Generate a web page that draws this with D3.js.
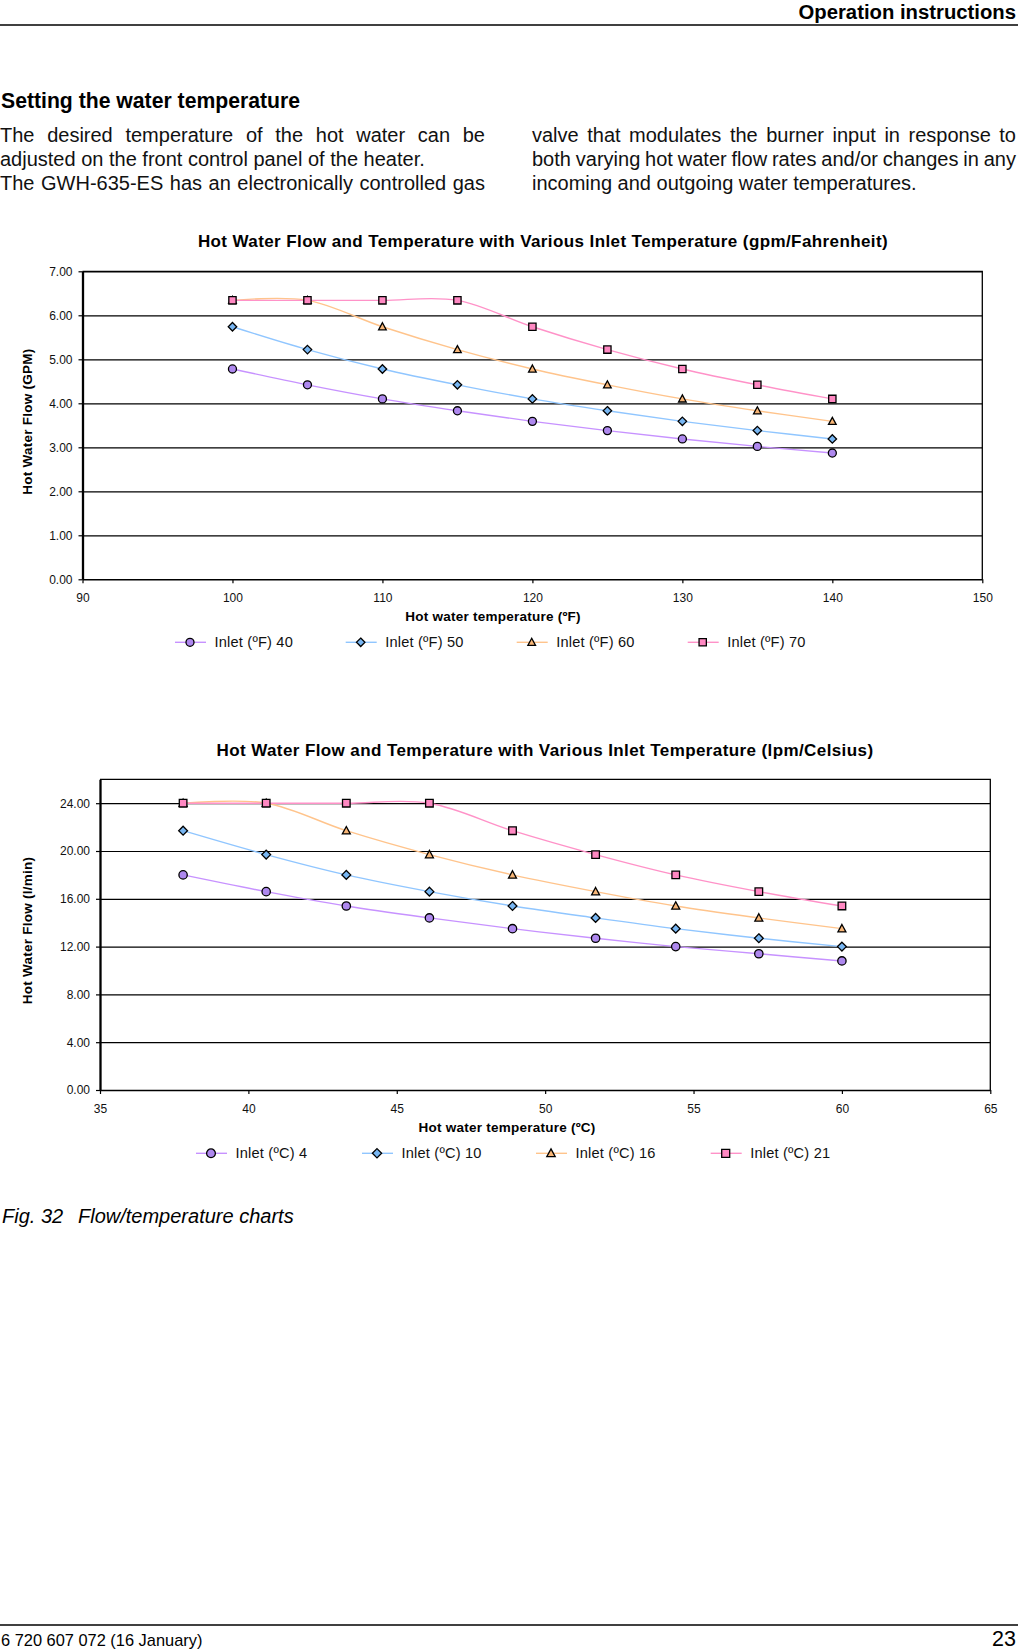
<!DOCTYPE html>
<html>
<head>
<meta charset="utf-8">
<script src="https://cdn.jsdelivr.net/npm/d3@7"></script>
<style>
html, body { margin: 0; padding: 0; background: #fff; }
svg text { font-family: "Liberation Sans", Arial, Helvetica, sans-serif; }
</style>
</head>
<body>
<script>
// ---- chart data ----

// chart 1: gpm / Fahrenheit
var tempF = [100, 105, 110, 115, 120, 125, 130, 135, 140];
var flowF40 = [4.78, 4.42, 4.10, 3.83, 3.59, 3.38, 3.19, 3.02, 2.87];
var flowF50 = [5.74, 5.22, 4.78, 4.42, 4.10, 3.83, 3.59, 3.38, 3.19];
var flowF60 = [6.34, 6.34, 5.74, 5.22, 4.78, 4.42, 4.10, 3.83, 3.59];
var flowF70 = [6.34, 6.34, 6.34, 6.34, 5.74, 5.22, 4.78, 4.42, 4.10];
var namesF = ["Inlet (ºF) 40", "Inlet (ºF) 50", "Inlet (ºF) 60", "Inlet (ºF) 70"];
var xTicksF = [90, 100, 110, 120, 130, 140, 150];
var yTicksF = [0, 1, 2, 3, 4, 5, 6, 7];

// chart 2: lpm / Celsius
var tempC = [37.8, 40.6, 43.3, 46.1, 48.9, 51.7, 54.4, 57.2, 60.0];
var flowC4 = [18.0, 16.6, 15.4, 14.4, 13.5, 12.7, 12.0, 11.4, 10.8];
var flowC10 = [21.7, 19.7, 18.0, 16.6, 15.4, 14.4, 13.5, 12.7, 12.0];
var flowC16 = [24.0, 24.0, 21.7, 19.7, 18.0, 16.6, 15.4, 14.4, 13.5];
var flowC21 = [24.0, 24.0, 24.0, 24.0, 21.7, 19.7, 18.0, 16.6, 15.4];
var namesC = ["Inlet (ºC) 4", "Inlet (ºC) 10", "Inlet (ºC) 16", "Inlet (ºC) 21"];
var xTicksC = [35, 40, 45, 50, 55, 60, 65];
var yTicksC = [0, 4, 8, 12, 16, 20, 24];

// series look (same order in both charts)
var lineColors = ["#C792FF", "#90C6FF", "#FFC48C", "#FF92C8"];
var markerFills = ["#AE88EE", "#78B6F2", "#F8B677", "#FF88C2"];
var markerKinds = ["circle", "diamond", "triangle", "square"];

var W = 1018, H = 1652;
var FONT = "\"Liberation Sans\", Arial, Helvetica, sans-serif";

var svg = d3.select("body").append("svg")
    .attr("width", W)
    .attr("height", H);

// ---- page header / text ----
svg.append("text")
    .attr("x", 1016).attr("y", 18.5)
    .attr("text-anchor", "end")
    .attr("font-size", 20.3).attr("font-weight", "bold")
    .text("Operation instructions");
svg.append("line")
    .attr("x1", 0).attr("x2", W).attr("y1", 25).attr("y2", 25)
    .attr("stroke", "#000").attr("stroke-width", 1.3);

svg.append("text")
    .attr("x", 1).attr("y", 107.5)
    .attr("font-size", 21.2).attr("font-weight", "bold")
    .text("Setting the water temperature");

// body lines: [text, x, baseline, justify width or 0]
var bodyLines = [
  ["The desired temperature of the hot water can be", 0, 141.5, 485],
  ["adjusted on the front control panel of the heater.", 0, 165.8, 0],
  ["The GWH-635-ES has an electronically controlled gas", 0, 190, 485],
  ["valve that modulates the burner input in response to", 532, 141.5, 484],
  ["both varying hot water flow rates and/or changes in any", 532, 165.8, 484],
  ["incoming and outgoing water temperatures.", 532, 190, 0]
];
bodyLines.forEach(function(l){
  var t = svg.append("text")
      .attr("x", l[1]).attr("y", l[2])
      .attr("font-size", 20)
      .attr("fill", "#111")
      .text(l[0]);
  if (l[3] > 0){
    var len = t.node().getComputedTextLength();
    var gaps = l[0].split(" ").length - 1;
    t.style("word-spacing", ((l[3] - len) / gaps) + "px");
  }
});

// ---- marker shapes ----
function markerPath(kind, s){
  var p = d3.path();
  if (kind == "circle"){
    p.moveTo(s * 0.55, 0);
    p.arc(0, 0, s * 0.55, 0, Math.PI * 2);
  } else if (kind == "square"){
    p.rect(-s / 2, -s / 2, s, s);
  } else if (kind == "diamond"){
    var r = s * 0.58;
    p.moveTo(0, -r); p.lineTo(r, 0); p.lineTo(0, r); p.lineTo(-r, 0); p.closePath();
  } else {
    var w = s / 2;
    p.moveTo(0, -w * 1.1); p.lineTo(w * 1.05, w * 0.85); p.lineTo(-w * 1.05, w * 0.85); p.closePath();
  }
  return p.toString();
}

// ---- one chart ----
function drawChart(opt){
  var x = d3.scaleLinear().domain(opt.xDomain).range([opt.left, opt.right]);
  var y = d3.scaleLinear().domain(opt.yDomain).range([opt.bottom, opt.top]);
  var g = svg.append("g");

  // title
  g.append("text")
      .attr("x", opt.titleX).attr("y", opt.titleY)
      .attr("text-anchor", "middle")
      .attr("font-size", 17).attr("font-weight", "bold")
      .style("letter-spacing", "0.4px")
      .text(opt.title);

  // horizontal gridlines
  g.append("g")
      .attr("transform", "translate(" + opt.left + ",0)")
      .call(d3.axisLeft(y).tickValues(opt.yTicks.slice(1)).tickSize(-(opt.right - opt.left)).tickFormat(""))
      .call(function(a){
        a.select(".domain").remove();
        a.selectAll("line").attr("stroke", "#000").attr("stroke-width", 1.2);
      });

  // top and right border
  g.append("path")
      .attr("d", "M" + opt.left + "," + opt.top + "H" + opt.right + "V" + opt.bottom)
      .attr("fill", "none").attr("stroke", "#000").attr("stroke-width", 1.3);

  // x axis
  g.append("g")
      .attr("transform", "translate(0," + opt.bottom + ")")
      .call(d3.axisBottom(x).tickValues(opt.xTicks).tickSize(4).tickSizeOuter(0).tickPadding(10).tickFormat(d3.format("d")))
      .call(function(a){
        a.attr("font-family", FONT).attr("font-size", 12);
        a.select(".domain").attr("stroke", "#000").attr("stroke-width", 1.6);
        a.selectAll(".tick line").attr("stroke", "#000").attr("stroke-width", 1.2);
        a.selectAll(".tick text").attr("fill", "#111");
      });

  // y axis
  g.append("g")
      .attr("transform", "translate(" + opt.left + ",0)")
      .call(d3.axisLeft(y).tickValues(opt.yTicks).tickSize(4).tickSizeOuter(0).tickPadding(6).tickFormat(d3.format(".2f")))
      .call(function(a){
        a.attr("font-family", FONT).attr("font-size", 12);
        a.select(".domain").attr("stroke", "#000").attr("stroke-width", 2.3);
        a.selectAll(".tick line").attr("stroke", "#000").attr("stroke-width", 1.2);
        a.selectAll(".tick text").attr("fill", "#111");
      });

  // axis titles
  g.append("text")
      .attr("x", opt.xTitleX).attr("y", opt.xTitleY)
      .attr("text-anchor", "middle")
      .attr("font-size", 13.5).attr("font-weight", "bold")
      .style("letter-spacing", "0.25px")
      .text(opt.xTitle);
  g.append("text")
      .attr("transform", "translate(" + opt.yTitleX + "," + opt.yTitleY + ") rotate(-90)")
      .attr("text-anchor", "middle")
      .attr("dy", "0.35em")
      .attr("font-size", 13.5).attr("font-weight", "bold")
      .style("letter-spacing", "0.25px")
      .text(opt.yTitle);

  // series: smoothed lines then markers, in series order
  var line = d3.line()
      .x(function(d){ return x(d[0]); })
      .y(function(d){ return y(d[1]); })
      .curve(d3.curveCardinal.tension(0));

  opt.series.forEach(function(vals, i){
    var pts = opt.xs.map(function(v, k){ return [v, vals[k]]; });
    var sg = g.append("g");
    sg.append("path")
        .datum(pts)
        .attr("d", line)
        .attr("fill", "none")
        .attr("stroke", lineColors[i])
        .attr("stroke-width", 1.4);
    sg.selectAll("path.mk")
        .data(pts)
        .enter().append("path")
        .attr("class", "mk")
        .attr("transform", function(d){ return "translate(" + x(d[0]) + "," + y(d[1]) + ")"; })
        .attr("d", markerPath(markerKinds[i], opt.markerSize))
        .attr("fill", markerFills[i])
        .attr("stroke", "#000")
        .attr("stroke-width", 1.3);
  });

  // legend
  var lg = g.append("g");
  opt.names.forEach(function(name, i){
    var lx = opt.legendX[i];
    lg.append("line")
        .attr("x1", lx).attr("x2", lx + 31)
        .attr("y1", opt.legendY).attr("y2", opt.legendY)
        .attr("stroke", lineColors[i]).attr("stroke-width", 1.4);
    lg.append("path")
        .attr("transform", "translate(" + (lx + 15) + "," + opt.legendY + ")")
        .attr("d", markerPath(markerKinds[i], opt.legendMarker))
        .attr("fill", markerFills[i])
        .attr("stroke", "#000")
        .attr("stroke-width", 1.3);
    lg.append("text")
        .attr("x", lx + 39.5).attr("y", opt.legendY + 5)
        .attr("font-size", 14.6)
        .style("letter-spacing", "0.2px")
        .attr("fill", "#111")
        .text(name);
  });
}

drawChart({
  title: "Hot Water Flow and Temperature with Various Inlet Temperature (gpm/Fahrenheit)",
  titleX: 543, titleY: 247,
  left: 82.5, right: 982.3, top: 271.3, bottom: 579.3,
  xDomain: [90, 150], yDomain: [0, 7],
  xTicks: xTicksF, yTicks: yTicksF,
  xTitle: "Hot water temperature (ºF)", xTitleX: 493, xTitleY: 620.5,
  yTitle: "Hot Water Flow (GPM)", yTitleX: 27.5, yTitleY: 421.6,
  xs: tempF, series: [flowF40, flowF50, flowF60, flowF70],
  names: namesF,
  legendX: [175, 345.7, 516.7, 687.7], legendY: 642.3,
  markerSize: 7.3, legendMarker: 7.3
});

drawChart({
  title: "Hot Water Flow and Temperature with Various Inlet Temperature (lpm/Celsius)",
  titleX: 545, titleY: 755.5,
  left: 100, right: 990.3, top: 779.3, bottom: 1090,
  xDomain: [35, 65], yDomain: [0, 26],
  xTicks: xTicksC, yTicks: yTicksC,
  xTitle: "Hot water temperature (ºC)", xTitleX: 507, xTitleY: 1131.5,
  yTitle: "Hot Water Flow (l/min)", yTitleX: 27.5, yTitleY: 930.6,
  xs: tempC, series: [flowC4, flowC10, flowC16, flowC21],
  names: namesC,
  legendX: [196, 362, 536, 710.7], legendY: 1153.3,
  markerSize: 7.6, legendMarker: 8
});

// ---- caption / footer ----
svg.append("text")
    .attr("x", 2).attr("y", 1223)
    .attr("font-size", 20).attr("font-style", "italic")
    .text("Fig. 32");
svg.append("text")
    .attr("x", 78).attr("y", 1223)
    .attr("font-size", 20).attr("font-style", "italic")
    .text("Flow/temperature charts");

svg.append("line")
    .attr("x1", 0).attr("x2", W).attr("y1", 1625).attr("y2", 1625)
    .attr("stroke", "#000").attr("stroke-width", 1.3);
svg.append("text")
    .attr("x", 1).attr("y", 1646)
    .attr("font-size", 16.4)
    .text("6 720 607 072 (16 January)");
svg.append("text")
    .attr("x", 1016).attr("y", 1645.5)
    .attr("text-anchor", "end")
    .attr("font-size", 21.5)
    .text("23");
</script>
</body>
</html>
